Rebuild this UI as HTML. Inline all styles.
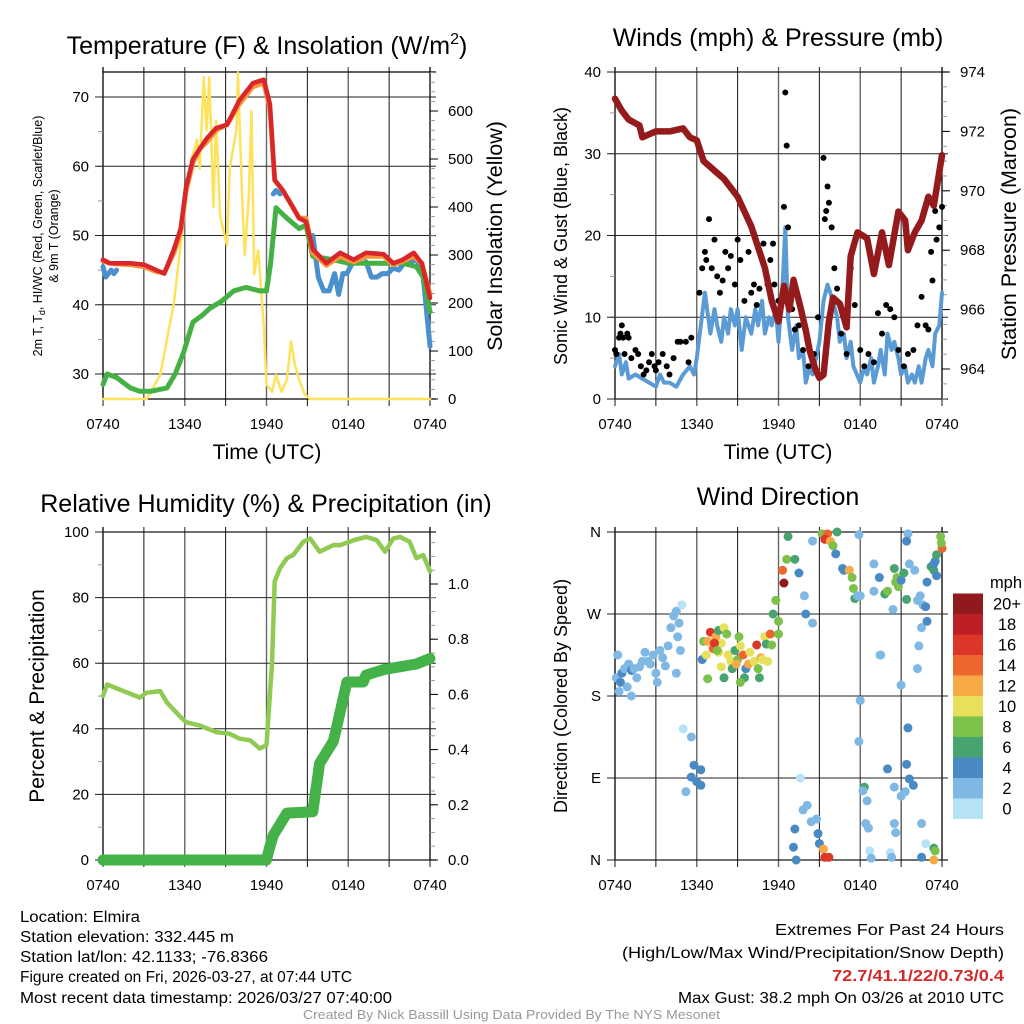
<!DOCTYPE html>
<html><head><meta charset="utf-8"><style>
html,body{margin:0;padding:0;background:#fff;}
svg{display:block;font-family:"Liberation Sans",sans-serif;}
</style></head><body>
<svg id="s" width="1024" height="1024" viewBox="0 0 1024 1024">
<rect width="1024" height="1024" fill="#fff"/>
<text x="267" y="54" font-size="25" text-anchor="middle">Temperature (F) &amp; Insolation (W/m<tspan font-size="16" dy="-10">2</tspan><tspan dy="10">)</tspan></text>
<text x="778" y="46" font-size="25" text-anchor="middle">Winds (mph) &amp; Pressure (mb)</text>
<text x="266" y="512" font-size="25" text-anchor="middle">Relative Humidity (%) &amp; Precipitation (in)</text>
<text x="778" y="505" font-size="25" text-anchor="middle">Wind Direction</text>
<text x="267" y="459" font-size="21" text-anchor="middle">Time (UTC)</text>
<text x="778" y="459" font-size="21" text-anchor="middle">Time (UTC)</text>
<text transform="translate(42,236) rotate(-90)" font-size="12.5" text-anchor="middle">2m T, T<tspan font-size="9" dy="3">d</tspan><tspan dy="-3">, HI/WC (Red, Green, Scarlet/Blue)</tspan></text>
<text transform="translate(58,236) rotate(-90)" font-size="12.5" text-anchor="middle">&amp; 9m T (Orange)</text>
<text transform="translate(502,236) rotate(-90)" font-size="21.5" text-anchor="middle">Solar Insolation (Yellow)</text>
<text transform="translate(567,236) rotate(-90)" font-size="18" text-anchor="middle">Sonic Wind &amp; Gust (Blue, Black)</text>
<text transform="translate(1016,234) rotate(-90)" font-size="21.5" text-anchor="middle">Station Pressure (Maroon)</text>
<text transform="translate(44,696) rotate(-90)" font-size="21" text-anchor="middle">Percent &amp; Precipitation</text>
<text transform="translate(567,696) rotate(-90)" font-size="18" text-anchor="middle">Direction (Colored By Speed)</text>
<g font-size="15.5">
<text x="20" y="922" textLength="120" lengthAdjust="spacingAndGlyphs">Location: Elmira</text>
<text x="20" y="942" textLength="214" lengthAdjust="spacingAndGlyphs">Station elevation: 332.445 m</text>
<text x="20" y="962" textLength="248" lengthAdjust="spacingAndGlyphs">Station lat/lon: 42.1133; -76.8366</text>
<text x="20" y="982" textLength="332" lengthAdjust="spacingAndGlyphs">Figure created on Fri, 2026-03-27, at 07:44 UTC</text>
<text x="20" y="1003" textLength="372" lengthAdjust="spacingAndGlyphs">Most recent data timestamp: 2026/03/27 07:40:00</text>
</g>
<g font-size="16">
<text x="775" y="935" textLength="229" lengthAdjust="spacingAndGlyphs">Extremes For Past 24 Hours</text>
<text x="622" y="958" textLength="382" lengthAdjust="spacingAndGlyphs">(High/Low/Max Wind/Precipitation/Snow Depth)</text>
<text x="832" y="981" textLength="172" lengthAdjust="spacingAndGlyphs" fill="#d42a2a" font-weight="bold">72.7/41.1/22/0.73/0.4</text>
<text x="678" y="1003" textLength="326" lengthAdjust="spacingAndGlyphs">Max Gust: 38.2 mph On 03/26 at 2010 UTC</text>
</g>
<text x="303" y="1019" font-size="13" textLength="417" lengthAdjust="spacingAndGlyphs" fill="#999">Created By Nick Bassill Using Data Provided By The NYS Mesonet</text>
<text x="1006" y="588" font-size="16.5" text-anchor="middle">mph</text>
</svg>
<script>
// ---- data ----
const xTickLabels = ["0740","1340","1940","0140","0740"];
const tempHours = [0,0.5,1,2,3,3.9,4.5,5.2,5.7,6.1,6.6,7.1,7.6,8.3,9.1,10,11,11.8,12.25,12.6,13.2,13.96,14.4,14.9,15.4,16.4,17.4,18.4,19.3,20.6,21.3,22,22.8,23.4,24];
const tempValues = [46.5,46,46,46,45.8,45,44.5,48,51,57,61,62.5,64,65.5,66,69.5,72,72.5,69,58,56.5,54,52.5,52,48,46,47.5,46.5,47.5,47.3,46,46.5,47.5,46,41];
const orangeValues = [46.3,46,45.9,45.8,45.5,44.8,44.6,47.5,50.5,56.5,60.5,62.5,63.5,65.2,66,69,71.5,72,68.5,58,56.5,54,52.5,52.5,47.5,45.7,47,46.2,47,47,45.8,46.3,47,46,41.5];
const dewHours = [0,0.3,1,2,2.7,3.5,4.7,5.3,5.9,6.6,7.3,7.85,8.7,9.6,10.5,11.5,12,12.3,12.7,13.5,14.4,14.9,15.4,16.9,18,19.3,20.5,22,23,23.5,24];
const dewValues = [28.5,30,29.5,28,27.5,27.5,28,30,33,37.5,38.5,39.5,40.5,42,42.5,42,42,46,54,52.5,51,51.5,47,46.5,46,46,46,46,45.5,44,39];
const wcHours = [0,0.2,0.4,0.6,0.8,1,null,12.5,12.7,13,null,15.4,15.8,16.2,16.6,17,17.3,17.6,17.9,18.3,null,19.3,19.7,20.1,20.5,20.9,21.3,21.7,22.1,22.5,22.9,23.2,23.5,23.8,24];
const wcValues = [45.5,44,44.5,45,44.5,45,null,56,56.5,56,null,50,44,42,42,44.5,41.5,44.5,44.5,46,null,46.2,44,44,44.5,44.5,45.3,45,46,46,46.5,46,44,38,34];
const solarHours = [0,3.2,4.2,5.2,6.1,6.5,6.9,7.1,7.4,7.6,7.8,8.1,8.3,8.6,9.1,9.3,9.6,9.8,9.9,10.2,10.4,10.7,10.9,11.1,11.4,11.8,12,12.4,12.7,13.1,13.5,13.8,14.1,14.4,14.8,15.2,24];
const solarValues = [0,0,50,200,420,500,540,480,670,560,670,400,580,380,320,480,530,560,680,430,300,420,600,260,310,150,30,15,50,15,40,120,70,40,10,0,0];
const presHours = [0,0.5,1,1.8,2,3,4,5,5.5,6,6.5,7.5,8,9,10,11,11.5,12,12.4,12.8,13.1,13.6,14,14.3,14.7,15,15.3,15.7,16,16.5,17,17.3,17.8,18.5,19,19.6,20.1,20.8,21.3,21.5,22,22.5,23,23.4,24];
const presValues = [973.1,972.7,972.4,972.2,971.8,972,972,972.1,971.8,971.7,971,970.6,970.4,969.8,968.8,967.4,966.3,965.6,966.8,966,967,966.1,965.3,964.6,964,963.7,963.8,965.6,966.4,966.2,965.4,967.8,968.6,968.4,967.2,968.6,967.5,969.3,969,968,968.6,969,969.8,969.5,971.2];
const windHours = [0,0.3,0.5,0.8,1,1.5,2,2.5,3,3.3,3.6,4,4.5,5,5.5,5.8,6,6.3,6.6,7,7.3,7.5,7.8,8,8.3,8.5,8.8,9,9.3,9.6,10,10.3,10.5,10.8,11,11.3,11.5,11.8,12,12.3,12.5,12.7,13,13.3,13.5,13.8,14,14.3,14.5,15,15.3,15.6,16,16.3,16.5,16.8,17,17.3,17.5,18,18.3,18.5,18.8,19,19.3,19.5,19.8,20,20.3,20.5,20.8,21,21.3,21.5,21.8,22,22.3,22.5,22.8,23,23.3,23.5,23.8,24];
const windValues = [4,5.5,3,4.5,2.5,3,2.5,2,1.5,3,2,2,1.5,3,4,3,5,9,13,8,11,9,7,10,8,11,9,11,6,10,8,11,9,12,8,10,9,11,7,14,21,10,6,9,5,6,2,4,3,7,12,14,12,10,7,8,5,7,4,2,4,3,5,2,4,6,3,8,6,7,5,3,4,2,3,2,4,2,5,6,4,8,9,13];
const gustHours = [0,0.1,0.3,0.4,0.5,0.6,0.7,0.9,1,1.2,1.5,1.7,1.9,2.1,2.3,2.5,2.7,2.9,3,3.2,3.5,3.8,4,4.3,4.6,4.8,5.2,5.4,5.6,6.2,6.4,6.6,6.7,6.9,7.1,7.3,7.5,7.7,7.9,8.1,8.3,8.5,8.8,9,9.2,9.5,9.8,10,10.2,10.4,10.6,10.9,11.2,11.4,11.6,11.7,12,12.4,12.5,12.6,12.7,13,13.2,13.5,13.8,14.2,14.6,14.9,15.3,15.4,15.5,15.6,15.7,15.9,16.1,16.3,16.6,17,17.3,17.6,18,18.3,18.6,19,19.3,19.6,19.9,20.2,20.5,20.8,21.2,21.5,21.9,22.2,22.5,22.8,23,23.2,23.3,23.5,23.6,23.8,24];
const gustValues = [6,5.5,7.5,8,9,7.5,5.5,8,7.5,5,6,5.5,4,3,3.5,4.5,5.5,4,3.5,4.5,5.5,4,3,5,7,7,7,4.5,7.5,13,16,18,17,22,16,19.5,15,13,14.5,18,16,17.5,14,19.5,17,12,18,13,14,11.5,13.5,19,14,17,19,14,12,23.5,37.5,31,21,11,8.5,9,6,4,5.5,10,29.5,22,23,26,24,21,16,13.5,8,5.5,16,11.5,6,4,5.5,4.5,10.5,8,11.5,11,10,6,4,5.5,6,9,12.5,9,8.5,18,14.5,23,19.5,21,23.5];
const rhHours = [0,0.3,1.2,2.7,3.2,4.2,4.7,5.6,6.1,7.1,8.3,9.3,10,10.8,11.5,12,12.4,12.6,13,13.5,13.96,14.7,15.2,15.9,16.9,17.4,18.4,19.3,20.1,20.7,21.3,21.8,22.5,23,23.5,24];
const rhValues = [50,53.5,52,49.5,51,51.5,48,44,42,41,39,38.5,37,36.5,34,35,60,85,89,92,93,97,98,94,96,96,97.5,98.5,97.5,94,98,98.5,97,92,93,88];
const precipHours = [0,12,12.2,12.5,13.5,15.4,15.9,16.9,17.1,17.9,19.1,19.3,20.6,23,24];
const precipValues = [0,0,0.04,0.09,0.17,0.175,0.35,0.43,0.47,0.645,0.645,0.67,0.69,0.71,0.73];
const dirHours = [0.1,0.2,0.3,0.4,0.5,0.7,0.9,1.0,1.2,1.2,1.4,1.6,1.8,2.0,2.2,2.4,2.6,2.8,3.0,3.1,3.3,3.5,3.7,3.9,4.1,4.3,4.5,4.5,4.6,4.7,4.8,4.9,5.0,5.6,5.8,5.6,5.2,6.0,6.3,6.3,6.5,6.4,6.7,6.8,7.0,7.2,7.4,7.6,7.6,7.8,8.0,8.2,8.3,8.5,8.6,8.8,9.0,9.2,9.4,9.5,9.6,9.8,9.9,10.2,10.4,10.5,10.7,10.8,11.0,11.1,11.2,11.4,11.5,8.0,9.2,10.6,7.3,7.5,8.9,7.8,9.1,6.8,11.6,11.8,12.0,12.0,12.3,12.4,12.6,12.7,13.2,13.5,13.9,14.5,14.0,14.5,13.1,13.3,13.2,13.8,14.1,14.4,14.8,14.9,15.0,15.3,15.4,15.7,13.6,15.2,15.6,15.4,15.8,16.0,16.3,16.2,16.7,16.8,17.2,17.4,17.5,17.6,17.8,18.0,17.9,18.0,17.9,18.3,18.2,18.5,18.4,18.6,18.7,18.8,19.0,19.0,19.4,19.4,19.5,19.8,20.0,20.5,20.6,20.8,20.7,21.0,21.2,21.4,20.4,21.0,21.5,21.4,21.6,21.9,21.3,20.0,20.5,21.5,21.6,22.0,22.2,22.4,22.5,22.6,22.3,22.2,22.8,22.9,23.2,23.4,23.5,23.6,23.4,23.6,22.9,23.4,23.5,23.4,22.5,22.8,23.9,24.0,23.95,21.4,20.5,20.6,20.2,20.3,22.5,21.0];
const dirDegrees = [200,225,185,195,205,210,190,215,208,180,210,200,212,218,228,218,215,225,205,195,230,222,213,235,255,268,273,205,245,260,230,280,144,135,104,91,75,86,82,99,240,220,225,240,250,232,245,228,252,238,255,248,225,218,210,230,220,235,225,200,210,215,228,218,236,210,222,220,245,237,218,248,236,200,195,200,238,230,215,212,245,199,270,285,262,248,318,304,330,355,330,315,290,260,270,350,14,0,34,55,60,42,45,29,18,12,3,3,90,358,358,352,350,345,360,336,320,318,318,310,298,287,290,290,357,175,130,80,76,65,40,35,10,2,295,325,310,225,225,292,295,320,305,300,310,307,315,286,275,192,145,105,89,82,75,100,80,358,325,318,285,290,255,280,235,210,278,305,322,318,328,335,325,312,262,13,10,0,40,18,355,342,348,350,40,30,8,3,3,70];
const dirSpeeds = [2,2,2,4,4,2,2,2,4,2,2,2,2,2,2,2,2,2,2,2,2,2,2,2,2,2,2,2,2,2,2,0,0,2,4,4,2,4,4,4,8,4,10,12,16,14,12,10,6,10,10,8,10,10,6,6,8,10,14,6,4,12,10,10,16,8,12,10,10,6,10,14,8,6,8,6,16,8,12,10,8,8,6,8,8,8,14,20,8,6,6,4,2,2,4,2,4,4,4,2,2,2,2,4,4,12,16,16,0,8,14,16,12,8,6,4,4,4,12,8,8,6,2,2,2,2,2,6,2,2,2,2,0,2,2,2,4,0,2,6,8,6,8,8,8,4,6,6,2,2,4,4,4,4,2,4,2,2,2,2,2,2,2,2,2,2,4,4,6,6,4,6,4,4,4,6,8,12,2,0,8,14,8,4,2,2,0,2,4,2];
const cbLabels = ["0","2","4","6","8","10","12","14","16","18","20+"];
const cbColors = ["#b6e3f8","#7fb8e3","#4a8ac4","#47a471","#7cc14a","#e6e05a","#f6aa45","#ee652d","#dc3629","#bc1f26","#8f191c"];

// ---- helpers ----
const S = document.getElementById('s');
const NS = 'http://www.w3.org/2000/svg';
function mk(tag, attrs, parent){const e=document.createElementNS(NS,tag);for(const k in attrs)e.setAttribute(k,attrs[k]);(parent||S).appendChild(e);return e;}
function linScale(d0,d1,r0,r1){return v=>r0+(v-d0)*(r1-r0)/(d1-d0);}
function pathFrom(hs,vs,xs,ys){let d='',pen=false;for(let i=0;i<hs.length;i++){if(hs[i]===null||vs[i]===null){pen=false;continue;}d+=(pen?'L':'M')+xs(hs[i]).toFixed(1)+' '+ys(vs[i]).toFixed(1);pen=true;}return d;}

function axes(P,name){
  const g=mk('g',{});
  
  
  for(let h=0;h<=24;h+=3){
    const x=P.xs(h);
    const ln=mk('line',{x1:x,x2:x,y1:P.y0-5,y2:P.y1+7,stroke:(h%6===0&&h>0&&h<24)?'#666':'#111','stroke-width':(h%6===0&&h>0&&h<24)?1.4:1},g);
    
    
  }
  xTickLabels.forEach((t,i)=>{
    const tx=mk('text',{x:P.xs(i*6),y:P.y1+30,'font-size':15,'text-anchor':'middle'},g);
    tx.textContent=t;
    
    
  });
  const fr=mk('path',{d:`M${P.x0} ${P.y0}H${P.x1+6}M${P.x0} ${P.y1}H${P.x1+6}M${P.x0} ${P.y0-5}V${P.y1}M${P.x1} ${P.y0-5}V${P.y1}`,stroke:'#000','stroke-width':1.3,fill:'none'},g);
  
  
  return g;
}
function leftAxis(P,g,name,vals,minors,ys,fmt,grid){
  minors.forEach(v=>{const y=ys(v);const l=mk('line',{x1:P.x0-5,x2:P.x0,y1:y,y2:y,stroke:'#999'},g);
    
    });
  vals.forEach(v=>{const y=ys(v);
    if(grid){const l=mk('line',{x1:P.x0-8,x2:P.x1+(grid==='full'?6:0),y1:y,y2:y,stroke:'#222','stroke-width':1},g);
      
      }
    const t=mk('text',{x:P.x0-14,y:y+5,'font-size':15,'text-anchor':'end'},g);t.textContent=fmt(v);
    
    });
}
function rightAxis(P,g,name,vals,minors,ys,fmt){
  minors.forEach(v=>{const y=ys(v);const l=mk('line',{x1:P.x1,x2:P.x1+5,y1:y,y2:y,stroke:'#999'},g);
    
    });
  vals.forEach(v=>{const y=ys(v);const l=mk('line',{x1:P.x1,x2:P.x1+8,y1:y,y2:y,stroke:'#000'},g);
    
    
    const t=mk('text',{x:P.x1+18,y:y+5,'font-size':15},g);t.textContent=fmt(v);
    
    });
}
function range(a,b,s){const r=[];for(let v=a;v<=b+1e-9;v+=s)r.push(+v.toFixed(3));return r;}
function line(P,hs,vs,ys,color,w,name){const p=mk('path',{d:pathFrom(hs,vs,P.xs,ys),stroke:color,'stroke-width':w,fill:'none','stroke-linejoin':'round','stroke-linecap':'round'});
  
  return p;}

// ---- Panel 1: temperature ----
const P1={x0:103,x1:430,y0:72,y1:399};P1.xs=linScale(0,24,P1.x0,P1.x1);
const tY=linScale(30,70,374,97), sY=linScale(0,600,399,111);
const g1=axes(P1,'temp');
leftAxis(P1,g1,'temp',range(30,70,10),range(30,70,5),tY,v=>v,'full');
rightAxis(P1,g1,'solar',range(0,600,100),range(0,680,20),sY,v=>v);
line(P1,solarHours,solarValues,sY,'#fde25a',2.5,'solar-insolation-line');
line(P1,wcHours,wcValues,tY,'#4a90cc',5,'wind-chill-line');
line(P1,dewHours,dewValues,tY,'#45b144',5,'dewpoint-line');
line(P1,tempHours,orangeValues,tY,'#f7943a',5,'temp-9m-line');
line(P1,tempHours,tempValues,tY,'#d8262a',4.5,'temp-2m-line');

// ---- Panel 2: winds ----
const P2={x0:615,x1:942,y0:72,y1:399};P2.xs=linScale(0,24,P2.x0,P2.x1);
const wY=linScale(0,40,399,72), pY=linScale(964,974,369,72);
const g2=axes(P2,'wind');
leftAxis(P2,g2,'wind',range(0,40,10),range(0,40,5),wY,v=>v,'full');
rightAxis(P2,g2,'pressure',range(964,974,2),range(963,974,0.5),pY,v=>v);
line(P2,windHours,windValues,wY,'#5b9bd5',4,'sonic-wind-line');
gustHours.forEach((h,i)=>{const c=mk('circle',{cx:P2.xs(h),cy:wY(gustValues[i]),r:3,fill:'#000'});
  
  });
line(P2,presHours,presValues,pY,'#951a1c',6.5,'pressure-line');

// ---- Panel 3: humidity ----
const P3={x0:103,x1:430,y0:532,y1:860};P3.xs=linScale(0,24,P3.x0,P3.x1);
const rY=linScale(0,100,860,532), prY=linScale(0,1,860,584);
const g3=axes(P3,'rh');
leftAxis(P3,g3,'rh',range(0,100,20),range(0,100,10),rY,v=>v,'full');
rightAxis(P3,g3,'precip',range(0,1,0.2),range(0,1.15,0.05),prY,v=>v.toFixed(1));
line(P3,rhHours,rhValues,rY,'#8fcb52',4.5,'relative-humidity-line');
line(P3,precipHours,precipValues,prY,'#44b248',11,'precipitation-line');

// ---- Panel 4: direction ----
const P4={x0:615,x1:942,y0:532,y1:860};P4.xs=linScale(0,24,P4.x0,P4.x1);
const dY=linScale(0,360,860,532);
const g4=axes(P4,'dir');
leftAxis(P4,g4,'dir',[0,90,180,270,360],[],dY,v=>['N','E','S','W','N'][v/90],'full');
dirHours.forEach((h,i)=>{const k=Math.min(10,Math.round(dirSpeeds[i]/2));
  const c=mk('circle',{cx:P4.xs(h),cy:dY(dirDegrees[i]),r:4.5,fill:cbColors[k]});
  
  });
cbColors.forEach((col,i)=>{const y=819-(i+1)*20.5;
  const r=mk('rect',{x:953,y:y,width:30,height:20.5,fill:col});
  
  
  const t=mk('text',{x:1007,y:y+16,'font-size':16.5,'text-anchor':'middle'});t.textContent=cbLabels[i];
  
  });
</script>
</body></html>
